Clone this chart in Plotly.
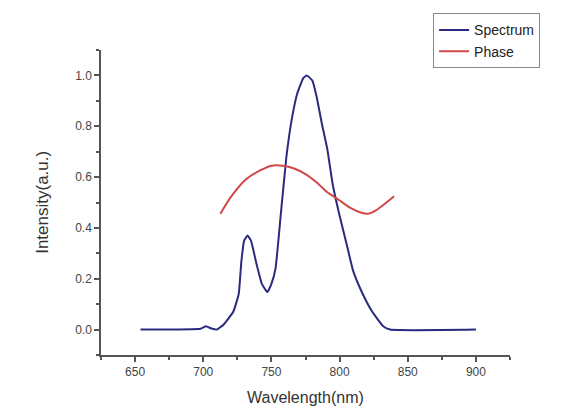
import plotly.graph_objects as go

spec_x = [654, 698, 702, 706, 710, 715, 722, 726, 728, 730, 732.5, 735, 739, 743, 747, 750, 753, 757,
          761, 765, 769, 773.5, 776, 780, 783, 787, 791, 795, 799.5, 805, 810, 817, 824, 832, 837, 900]
spec_y = [0.0, 0.003, 0.013, 0.004, 0.0, 0.02, 0.07, 0.14, 0.27, 0.35, 0.37, 0.35, 0.26, 0.18, 0.148,
          0.18, 0.24, 0.46, 0.68, 0.83, 0.93, 0.99, 1.0, 0.98, 0.92, 0.81, 0.71, 0.57, 0.46, 0.34,
          0.23, 0.14, 0.07, 0.013, 0.0, 0.0]

phase_x = [712.6, 720, 731, 742, 750, 758.5, 766.7, 775, 783, 791, 799.5, 807.6, 816, 821, 827, 832, 840]
phase_y = [0.456, 0.52, 0.59, 0.627, 0.645, 0.645, 0.634, 0.612, 0.58, 0.54, 0.51, 0.48, 0.46,
           0.456, 0.47, 0.49, 0.525]

x_ticks = [650, 700, 750, 800, 850, 900]
y_ticks = [0.0, 0.2, 0.4, 0.6, 0.8, 1.0]

x_title = "Wavelength(nm)"
y_title = "Intensity(a.u.)"

FONT = "Liberation Sans, Arial"

fig = go.Figure()
fig.add_trace(go.Scatter(x=spec_x, y=spec_y, mode="lines", name="Spectrum",
                         line=dict(color="#2a2a80", width=2, shape="spline", smoothing=0.4)))
fig.add_trace(go.Scatter(x=phase_x, y=phase_y, mode="lines", name="Phase",
                         line=dict(color="#d04848", width=2, shape="spline", smoothing=0.6)))

axis_common = dict(showgrid=False, zeroline=False, showline=True, linecolor="#555", linewidth=1.5,
                   ticks="outside", ticklen=5, tickwidth=1.5, tickcolor="#555", automargin=False,
                   tickfont=dict(family=FONT, size=12, color="#444"))

fig.update_xaxes(range=[625, 925], tickvals=x_ticks, ticktext=[str(v) for v in x_ticks],
                 minor=dict(dtick=25, tick0=625, ticks="outside", ticklen=3, tickcolor="#555"),
                 **axis_common)
fig.update_yaxes(range=[-0.1, 1.1], tickvals=y_ticks, ticktext=[f"{v:.1f}" for v in y_ticks],
                 minor=dict(dtick=0.1, tick0=-0.1, ticks="outside", ticklen=3, tickcolor="#555"),
                 **axis_common)

fig.add_annotation(text=x_title, xref="paper", yref="paper", x=0.499, y=-0.138,
                   xanchor="center", yanchor="middle", showarrow=False,
                   font=dict(family=FONT, size=16, color="#333"))
fig.add_annotation(text=y_title, xref="paper", yref="paper", x=-0.142, y=0.502,
                   xanchor="center", yanchor="middle", showarrow=False, textangle=-90,
                   font=dict(family=FONT, size=17, color="#333"))

fig.update_layout(
    width=582, height=407,
    margin=dict(l=101, r=72, t=50, b=52),
    paper_bgcolor="white", plot_bgcolor="white",
    showlegend=True,
    legend=dict(x=0.812, xanchor="left", y=1.12, yanchor="top", xref="paper", yref="paper",
                bgcolor="white", bordercolor="#888", borderwidth=1,
                font=dict(family=FONT, size=14, color="#222"),
                tracegroupgap=0, itemwidth=30),
)

fig.write_html("out.html")
